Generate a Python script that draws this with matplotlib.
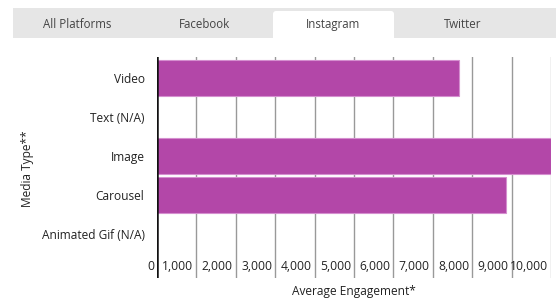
import matplotlib.pyplot as plt
from matplotlib.patches import Rectangle, FancyBboxPatch
from matplotlib.transforms import offset_copy

plt.rcParams['font.family'] = ['Open Sans', 'DejaVu Sans']

# data
media_types = ['Video', 'Text (N/A)', 'Image', 'Carousel', 'Animated Gif (N/A)']
engagement = [7670, 0, 10000, 8860, 0]
x_ticks = [0, 1000, 2000, 3000, 4000, 5000, 6000, 7000, 8000, 9000, 10000]
tabs = ['All Platforms', 'Facebook', 'Instagram', 'Twitter']
tab_centers = [77, 205, 333, 463]
active_tab = 'Instagram'

W, H = 556, 300
fig = plt.figure(figsize=(W / 100, H / 100), dpi=100)

# tab strip at the top
bg = fig.add_axes([0, 0, 1, 1])
bg.set_xlim(0, W)
bg.set_ylim(H, 0)
bg.axis('off')
bg.add_patch(Rectangle((13, 8), W - 13, 30, facecolor='#e6e6e6', edgecolor='none'))
bg.add_patch(FancyBboxPatch((273, 11), 121, 30, boxstyle='round,pad=0,rounding_size=3',
                            facecolor='white', edgecolor='none'))
for name, cx in zip(tabs, tab_centers):
    bg.text(cx, 24.5, name, ha='center', va='center', fontsize=8.3, color='#444444')

# chart
left, right, top, bottom = 157, 551, 57, 278
ax = fig.add_axes([left / W, 1 - bottom / H, (right - left) / W, (bottom - top) / H])
ypos = list(range(len(media_types)))
ax.barh(ypos, engagement, height=0.92, color='#b347a8', edgecolor='#d58fcf', linewidth=0.8, zorder=2)
ax.set_xlim(0, 10000)
ax.set_ylim((bottom - 78) / 39, (top - 78) / 39)

for v in x_ticks[1:]:
    ax.axvline(v, color='#999999' if v < 10000 else '#bbbbbb', linewidth=1, zorder=1)
ax.axvline(0, color='#111111', linewidth=1.8, zorder=3)

label_tr = offset_copy(ax.transData, fig=fig, x=-3, y=0, units='dots')
for v in x_ticks:
    ax.text(v, (267 - 78) / 39, f'{v:,}', transform=label_tr, ha='right', va='center',
            fontsize=8.7, color='#222222')

ax.set_yticks(ypos)
ax.set_yticklabels(media_types, fontsize=8.6, color='#222222')
ax.tick_params(axis='y', length=0, pad=9)
ax.set_xticks([])
for s in ax.spines.values():
    s.set_visible(False)

fig.text((left + right) / 2 / W, 1 - 291 / H, 'Average Engagement*', ha='center', va='center',
         fontsize=8.6, color='#222222')
fig.text(27 / W, 1 - 169 / H, 'Media Type**', ha='center', va='center', rotation=90,
         fontsize=8.6, color='#222222')

fig.savefig('out.png', dpi=100)
